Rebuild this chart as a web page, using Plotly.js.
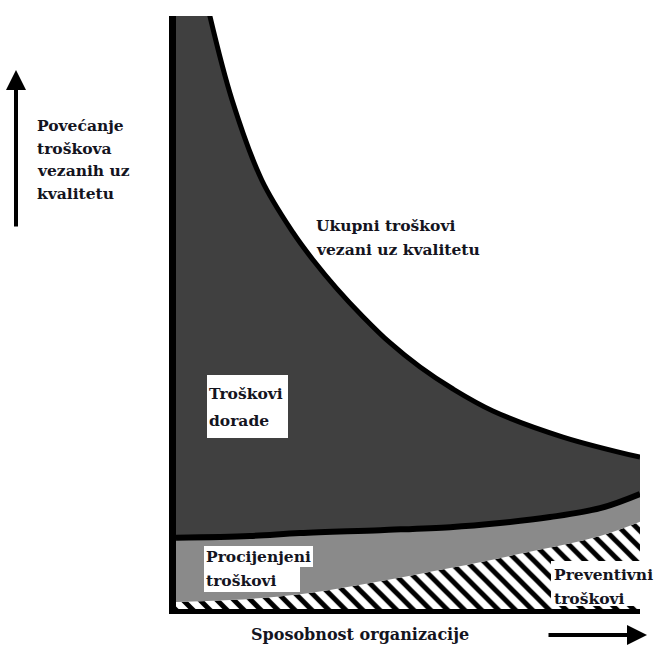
<!DOCTYPE html>
<html>
<head>
<meta charset="utf-8">
<script src="https://cdn.plot.ly/plotly-3.0.1.min.js"></script>
<style>html,body{margin:0;padding:0;background:#fff;}#chart{width:659px;height:645px;}</style>
</head>
<body>
<div id="chart"></div>
<script>
// Organisational capability (x, 0..10) vs cost (y, 0..100)
const totalX = [0, 0.35, 0.73, 1.21, 1.85, 2.52, 2.95, 3.47, 4.03, 4.61, 5.26, 5.97, 6.83, 8.34, 10];
const totalY = [127, 114, 100, 85.8, 72.3, 63.5, 58.9, 54.0, 49.3, 44.9, 40.8, 37.1, 33.4, 29.0, 25.6];

const appraisalX = [0, 1.59, 2.67, 4.40, 5.91, 6.98, 8.06, 9.14, 10];
const appraisalY = [12.0, 12.3, 12.8, 13.3, 13.8, 14.5, 15.5, 17.0, 19.4];

const preventionX = [0, 1.16, 2.67, 4.40, 5.91, 7.41, 9.14, 10];
const preventionY = [1.2, 1.5, 2.5, 4.7, 6.9, 9.3, 12.3, 14.7];

const yTitleLines = ['Povećanje', 'troškova', 'vezanih uz', 'kvalitetu'];
const totalLines = ['Ukupni troškovi', 'vezani uz kvalitetu'];
const reworkLines = ['Troškovi', 'dorade'];
const appraisalLines = ['Procijenjeni', 'troškovi'];
const preventionLines = ['Preventivni', 'troškovi'];
const xTitle = 'Sposobnost organizacije';

const W = 659, H = 645;
const M = {l: 176, r: 19, t: 16, b: 36};
const pw = W - M.l - M.r, ph = H - M.t - M.b;
const px = v => (v - M.l) / pw;
const py = v => (H - M.b - v) / ph;
const FONT = 'DejaVu Serif';
const TXT = '#14141e';
const FS = 15.5;

const traces = [
  {x: preventionX, y: preventionY, mode: 'lines', fill: 'tozeroy',
   line: {width: 0, shape: 'spline', color: 'rgba(0,0,0,0)'},
   fillpattern: {shape: '\\', bgcolor: '#ffffff', fgcolor: '#000000', size: 12, solidity: 0.42},
   hoverinfo: 'skip'},
  {x: appraisalX, y: appraisalY, mode: 'lines', fill: 'tonexty', fillcolor: '#8a8a8a',
   line: {width: 6, color: '#000', shape: 'spline'}, hoverinfo: 'skip'},
  {x: totalX, y: totalY, mode: 'lines', fill: 'tonexty', fillcolor: '#404040',
   line: {width: 5, color: '#000', shape: 'spline', smoothing: 1}, hoverinfo: 'skip'}
];

function line(text, x, y, size) {
  return {
    text: text, xref: 'paper', yref: 'paper', x: px(x), y: py(y),
    xanchor: 'left', yanchor: 'middle', align: 'left', showarrow: false,
    font: {family: FONT, size: size || FS, color: TXT, weight: 700}
  };
}
function block(lines, x, y0, step) {
  return lines.map((t, i) => line(t, x, y0 + i * step));
}
function box(x0, y0, x1, y1) {
  return {type: 'rect', xref: 'paper', yref: 'paper', layer: 'above',
          x0: px(x0), x1: px(x1), y0: py(y1), y1: py(y0),
          fillcolor: '#ffffff', line: {width: 0}};
}

const annotations = [].concat(
  block(yTitleLines, 35, 125, 23),
  block(totalLines, 314, 225, 25),
  block(reworkLines, 207, 394, 26),
  block(appraisalLines, 204, 556, 24),
  block(preventionLines, 552, 574, 24),
  [line(xTitle, 249, 635, 16)],
  [{text: '', xref: 'paper', yref: 'paper', x: px(16), y: py(70), ax: 0, ay: 158,
    showarrow: true, arrowhead: 2, arrowsize: 1, arrowwidth: 4, arrowcolor: '#000', standoff: 0},
   {text: '', xref: 'paper', yref: 'paper', x: px(647), y: py(635), ax: -100, ay: 0,
    showarrow: true, arrowhead: 2, arrowsize: 1, arrowwidth: 4, arrowcolor: '#000', standoff: 0}]
);

const shapes = [
  box(207, 375, 288, 438),
  box(204, 546, 313, 567),
  box(204, 567, 300, 592),
  box(551, 561, 645, 606)
];

const layout = {
  width: W, height: H, margin: M, showlegend: false,
  font: {family: FONT},
  paper_bgcolor: '#fff', plot_bgcolor: '#fff',
  xaxis: {range: [0, 10], showgrid: false, zeroline: false, showticklabels: false, ticks: '',
          showline: true, linecolor: '#000', linewidth: 5},
  yaxis: {range: [0, 100], showgrid: false, zeroline: false, showticklabels: false, ticks: '',
          showline: true, linecolor: '#000', linewidth: 7},
  shapes: shapes,
  annotations: annotations
};

Plotly.newPlot('chart', traces, layout, {staticPlot: true, displayModeBar: false});
</script>
</body>
</html>
